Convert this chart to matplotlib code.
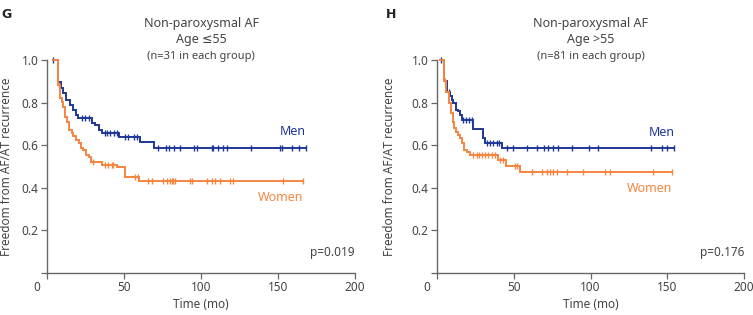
import numpy as np
import matplotlib
matplotlib.use("Agg")
import matplotlib.pyplot as plt
from matplotlib.transforms import ScaledTranslation

plt.rcParams['font.family'] = ['Noto Sans', 'DejaVu Sans']

# ---------------- data ----------------
# Panel G: Non-paroxysmal AF, Age <=55
g_men_t = [3.7, 7.4, 8.9, 10.6, 12.3, 14.9, 16.7, 18.8, 20.3, 29.0, 31.2, 34.0, 35.5, 47.0, 60.4, 69.5]
g_men_s = [1.0, 0.898, 0.867, 0.844, 0.81, 0.79, 0.766, 0.742, 0.727, 0.706, 0.695, 0.672, 0.656, 0.637, 0.617, 0.589]
g_men_c = [3.7, 22.5, 24.7, 27.5, 37.7, 38.7, 40.9, 43.5, 45.7, 50.6, 52.8, 56.5, 58.2, 72.3, 77.3, 79.4,
           82.7, 86.4, 95.5, 97.6, 106.9, 108.0, 111.3, 114.1, 116.7, 132.3, 151.3, 152.4, 159.3, 163.9, 168.0]

g_wom_t = [3.7, 7.4, 8.4, 9.5, 10.6, 11.7, 12.8, 14.5, 16.0, 17.1, 18.8, 21.0, 21.9, 23.6, 25.3, 27.5,
           28.4, 35.5, 45.7, 50.6, 60.0]
g_wom_s = [1.0, 0.883, 0.82, 0.805, 0.78, 0.734, 0.71, 0.67, 0.656, 0.644, 0.625, 0.61, 0.586, 0.578, 0.555,
           0.544, 0.523, 0.508, 0.497, 0.45, 0.43]
g_wom_c = [7.9, 30.1, 37.7, 39.8, 42.0, 43.1, 57.1, 59.3, 65.8, 68.0, 75.5, 77.7, 79.9, 81.0, 82.0, 83.1,
           92.9, 93.9, 103.7, 106.9, 109.1, 112.3, 118.8, 121.0, 153.5, 166.5]

# Panel H: Non-paroxysmal AF, Age >55
h_men_t = [2.0, 4.6, 6.3, 8.5, 9.6, 10.7, 12.4, 13.9, 15.0, 16.1, 23.7, 29.8, 31.3, 42.2]
h_men_s = [1.0, 0.9, 0.852, 0.83, 0.81, 0.8, 0.766, 0.76, 0.74, 0.72, 0.675, 0.633, 0.61, 0.586]
h_men_c = [2.4, 8.0, 17.2, 18.9, 21.1, 22.6, 32.4, 34.6, 36.7, 38.9, 40.7, 45.9, 49.3, 58.9, 65.4, 69.8,
           72.0, 75.4, 79.1, 87.8, 98.7, 104.8, 139.3, 146.5, 149.8, 154.6]

h_wom_t = [2.0, 4.6, 5.9, 8.0, 8.9, 10.2, 11.1, 12.4, 13.9, 15.0, 16.1, 17.6, 19.3, 21.5, 40.0, 45.0, 54.1]
h_wom_s = [1.0, 0.9, 0.85, 0.8, 0.75, 0.71, 0.68, 0.664, 0.648, 0.633, 0.61, 0.578, 0.57, 0.555, 0.531,
           0.503, 0.472]
h_wom_c = [5.0, 23.7, 25.9, 27.6, 29.1, 31.3, 33.5, 35.7, 37.8, 41.1, 43.3, 50.9, 52.4, 61.7, 68.3, 71.5,
           73.7, 75.4, 78.0, 85.0, 95.4, 109.6, 112.4, 140.7, 153.0]

x_ticks = [0, 50, 100, 150, 200]
y_ticks = [0, 0.2, 0.4, 0.6, 0.8, 1.0]
y_tick_labels = ['', '0.2', '0.4', '0.6', '0.8', '1.0']

panels = [
    dict(letter='G', age='Age \u226455', n='(n=31 in each group)', p='p=0.019', ylx=-0.112,
         men=(g_men_t, g_men_s, g_men_c), wom=(g_wom_t, g_wom_s, g_wom_c)),
    dict(letter='H', age='Age >55', n='(n=81 in each group)', p='p=0.176', ylx=-0.135,
         men=(h_men_t, h_men_s, h_men_c), wom=(h_wom_t, h_wom_s, h_wom_c)),
]

MEN = '#1f3796'
WOMEN = '#f5853f'
TXT = '#444444'
SPINE = '#666666'

W, H = 753, 315
fig = plt.figure(figsize=(W / 100, H / 100), dpi=100)

axes_px = [(47, 355), (437, 744)]
top_px, bot_px = 60, 273

def km_draw(ax, t, s, c, color):
    t = np.asarray(t); s = np.asarray(s); c = np.asarray(c)
    end = max(t.max(), c.max())
    tt = np.append(t, end)
    ss = np.append(s, s[-1])
    ax.step(tt, ss, where='post', color=color, lw=1.4, solid_joinstyle='miter', clip_on=False)
    idx = np.searchsorted(t, c, side='right') - 1
    idx = np.clip(idx, 0, len(s) - 1)
    ax.plot(c, s[idx], linestyle='none', marker='|', ms=4, mew=1.0, color=color, clip_on=False)
    return end, s[-1]

for (x0, x1), P in zip(axes_px, panels):
    ax = fig.add_axes([x0 / W, 1 - bot_px / H, (x1 - x0) / W, (bot_px - top_px) / H])
    ax.set_xlim(0, 200)
    ax.set_ylim(0, 1.0)
    for sp in ['top', 'right']:
        ax.spines[sp].set_visible(False)
    for sp in ['left', 'bottom']:
        ax.spines[sp].set_color(SPINE)
        ax.spines[sp].set_linewidth(1.0)
    ax.set_xticks(x_ticks)
    ax.set_yticks(y_ticks)
    ax.set_yticklabels(y_tick_labels)
    ax.tick_params(axis='both', colors=SPINE, labelcolor=TXT, labelsize=8.5, length=4, width=0.9, pad=2)
    # shift the "0" x-tick label to the left
    lab0 = ax.get_xticklabels()[0]
    lab0.set_transform(lab0.get_transform() + ScaledTranslation(-0.10, 0, fig.dpi_scale_trans))

    mend, mlast = km_draw(ax, *P['men'], MEN)
    wend, wlast = km_draw(ax, *P['wom'], WOMEN)

    ax.text(mend, mlast + 0.045, 'Men', color=MEN, fontsize=9, ha='right', va='bottom')
    ax.text(wend, wlast - 0.045, 'Women', color=WOMEN, fontsize=9, ha='right', va='top')
    ax.text(200, 0.095, P['p'], color=TXT, fontsize=8.5, ha='right', va='center')

    ax.set_xlabel('Time (mo)', color=TXT, fontsize=8.5, labelpad=3)
    ax.set_ylabel('Freedom from AF/AT recurrence', color=TXT, fontsize=8.5)
    ax.yaxis.set_label_coords(P['ylx'], 0.5)

    cx = (x0 + x1) / 2 / W
    fig.text(cx, 1 - 23 / H, 'Non-paroxysmal AF', ha='center', va='center', fontsize=9, color=TXT)
    fig.text(cx, 1 - 40 / H, P['age'], ha='center', va='center', fontsize=9, color=TXT)
    fig.text(cx, 1 - 56 / H, P['n'], ha='center', va='center', fontsize=8, color=TXT)

fig.text(1 / W, 1 - 14 / H, 'G', fontsize=9, fontweight='bold', family='DejaVu Sans', color='#222222', ha='left', va='center')
fig.text(386 / W, 1 - 14 / H, 'H', fontsize=9, fontweight='bold', family='DejaVu Sans', color='#222222', ha='left', va='center')

fig.savefig('out.png', dpi=100)
